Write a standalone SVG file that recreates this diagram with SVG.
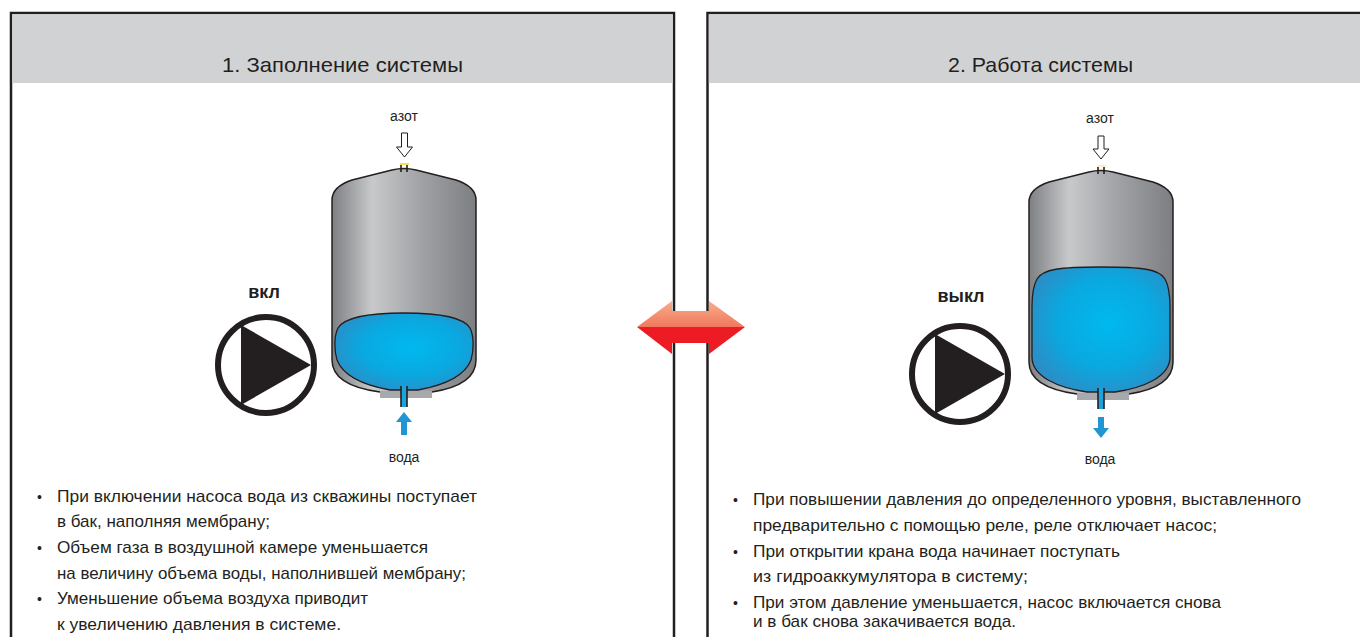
<svg xmlns="http://www.w3.org/2000/svg" width="1360" height="637" viewBox="0 0 1360 637">
  <style>
    .frame { fill: #ffffff; stroke: #231f20; stroke-width: 2.5; }
    .head { fill: #d1d2d4; }
    .title { font-family: "Liberation Sans Narrow", "Liberation Sans", sans-serif; font-size: 21px; fill: #231f20; text-anchor: middle; }
    .body { font-family: "Liberation Sans Narrow", "Liberation Sans", sans-serif; font-size: 17px; fill: #231f20; }
    .bullet { font-family: "Liberation Sans", sans-serif; font-size: 14px; fill: #231f20; }
    .lbl { font-family: "Liberation Sans", Arial, sans-serif; font-size: 14px; fill: #231f20; text-anchor: middle; }
    .state { font-family: "Liberation Sans", Arial, sans-serif; font-size: 18px; font-weight: bold; fill: #231f20; text-anchor: middle; }
    .shell { fill: url(#steel); stroke: #231f20; stroke-width: 1.5; }
    .membrane { fill: url(#water); stroke: #231f20; stroke-width: 1.3; }
    .flange { fill: #a7a9ac; }
    .valve { stroke: #231f20; stroke-width: 1.6; fill: none; }
    .gas { fill: #ffffff; stroke: #231f20; stroke-width: 1; }
    .flow { fill: #2196d3; }
    .ring { fill: none; stroke: #231f20; stroke-width: 6; }
  </style>
  <defs>
    <linearGradient id="steel" x1="0" y1="0" x2="1" y2="0">
      <stop offset="0" stop-color="#7e7f82"/>
      <stop offset="0.28" stop-color="#c8c9cb"/>
      <stop offset="0.6" stop-color="#a3a4a7"/>
      <stop offset="1" stop-color="#7d7e81"/>
    </linearGradient>
    <radialGradient id="water" cx="0.55" cy="0.45" r="0.6">
      <stop offset="0" stop-color="#00b9ef"/>
      <stop offset="0.6" stop-color="#0aa8e0"/>
      <stop offset="1" stop-color="#2b8ec6"/>
    </radialGradient>
    <linearGradient id="salmon" x1="0" y1="0" x2="0" y2="1">
      <stop offset="0" stop-color="#f8ae8c"/>
      <stop offset="1" stop-color="#f0785c"/>
    </linearGradient>
    <!-- tank shell: domed top, straight walls, rounded bottom to the flange -->
    <path id="shell" d="M 332 200 C 332 190 340 184 352 180 L 392 170 Q 404 167 416 170 L 456 180 C 468 184 476 190 476 200 L 476 360 C 476 378 458 388 432 392 L 380 392 C 350 388 332 378 332 360 Z"/>
  </defs>

  <!-- panel 1 -->
  <g id="panel-1">
    <rect class="frame" x="11" y="13" width="663" height="640"/>
    <rect class="head" x="12.3" y="14.3" width="660.4" height="68.7"/>
    <text class="title" x="342.5" y="72" textLength="241" lengthAdjust="spacingAndGlyphs">1. Заполнение системы</text>
  </g>

  <!-- panel 2 -->
  <g id="panel-2">
    <rect class="frame" x="707.5" y="13" width="663" height="640"/>
    <rect class="head" x="708.8" y="14.3" width="660.4" height="68.7"/>
    <text class="title" x="1040.5" y="72" textLength="185" lengthAdjust="spacingAndGlyphs">2. Работа системы</text>
  </g>

  <!-- tank, filling stage: small membrane -->
  <g id="tank-1">
    <use href="#shell" class="shell"/>
    <path class="membrane" d="M 404 313 C 440 313 464 318 470 328 C 474 336 474 350 471 360 C 464 378 440 386 418 390 L 390 390 C 368 386 344 378 337 360 C 334 350 334 336 338 328 C 344 318 368 313 404 313 Z"/>
    <rect class="flange" x="380" y="391" width="52" height="7"/>
    <rect x="401" y="386" width="6" height="21" fill="#1aa3dc"/>
    <path class="valve" d="M 401 386 V 407 M 407 386 V 407"/>
    <path d="M 400 164 H 409" stroke="#f2d21b" stroke-width="1.5"/>
    <path class="valve" d="M 401 165 V 172 M 407 165 V 172"/>
  </g>

  <!-- tank, working stage: full membrane -->
  <g id="tank-2" transform="translate(697 2)">
    <use href="#shell" class="shell"/>
    <path class="membrane" d="M 404 265 C 445 265 462 267 468 277 C 472 284 473 294 473 305 L 473 355 C 473 375 446 386 418 390 L 390 390 C 362 386 335 375 335 355 L 335 305 C 335 294 336 284 340 277 C 346 267 363 265 404 265 Z"/>
    <rect class="flange" x="380" y="391" width="52" height="7"/>
    <rect x="401" y="386" width="6" height="21" fill="#1aa3dc"/>
    <path class="valve" d="M 401 386 V 407 M 407 386 V 407"/>
    <path d="M 400 164 H 409" stroke="#f7e27a" stroke-width="1"/>
    <path class="valve" d="M 401 165 V 172 M 407 165 V 172"/>
  </g>

  <!-- pump, running -->
  <g id="pump-1">
    <text class="state" x="264" y="298">вкл</text>
    <circle class="ring" cx="266" cy="365" r="48"/>
    <polygon points="241,325 311,365 241,405" fill="#231f20"/>
  </g>

  <!-- pump, stopped -->
  <g id="pump-2">
    <text class="state" x="961" y="302">выкл</text>
    <circle class="ring" cx="960" cy="374" r="48"/>
    <polygon points="935,334 1005,374 935,414" fill="#231f20"/>
  </g>

  <!-- labels -->
  <g id="labels">
    <text class="lbl" x="404" y="121">азот</text>
    <text class="lbl" x="404" y="462">вода</text>
    <text class="lbl" x="1100" y="123">азот</text>
    <text class="lbl" x="1100" y="464">вода</text>
  </g>

  <!-- arrows -->
  <g id="connectors">
    <path class="gas" d="M 401.5 133 H 407.5 V 147 H 412.5 L 404.5 157 L 396.5 147 H 401.5 Z"/>
    <path class="gas" d="M 1098 136 H 1104 V 149 H 1109 L 1101 159 L 1093 149 H 1098 Z"/>
    <path class="flow" d="M 404 412 L 412 422 H 407 V 435 H 401 V 422 H 396 Z"/>
    <path class="flow" d="M 1101 438 L 1109 428 H 1104 V 417 H 1098 V 428 H 1093 Z"/>
    <!-- two-way arrow across the panel borders -->
    <polygon points="637,327 672,301 672,311 709,311 709,301 745,327" fill="url(#salmon)"/>
    <polygon points="637,327 745,327 709,354 709,343 672,343 672,354" fill="#ed1c24"/>
  </g>

  <!-- notes, panel 1 -->
  <g id="notes-1">
    <text class="bullet" x="37" y="502">•</text>
    <text class="body" x="57" y="502" textLength="420" lengthAdjust="spacingAndGlyphs">При включении насоса вода из скважины поступает</text>
    <text class="body" x="57" y="527">в бак, наполняя мембрану;</text>
    <text class="bullet" x="37" y="553">•</text>
    <text class="body" x="57" y="553" textLength="371" lengthAdjust="spacingAndGlyphs">Объем газа в воздушной камере уменьшается</text>
    <text class="body" x="57" y="579" textLength="409" lengthAdjust="spacingAndGlyphs">на величину объема воды, наполнившей мембрану;</text>
    <text class="bullet" x="37" y="604">•</text>
    <text class="body" x="57" y="604" textLength="311" lengthAdjust="spacingAndGlyphs">Уменьшение объема воздуха приводит</text>
    <text class="body" x="57" y="630" textLength="284" lengthAdjust="spacingAndGlyphs">к увеличению давления в системе.</text>
  </g>

  <!-- notes, panel 2 -->
  <g id="notes-2">
    <text class="bullet" x="733" y="505">•</text>
    <text class="body" x="753" y="505" textLength="548" lengthAdjust="spacingAndGlyphs">При повышении давления до определенного уровня, выставленного</text>
    <text class="body" x="753" y="531" textLength="464" lengthAdjust="spacingAndGlyphs">предварительно с помощью реле, реле отключает насос;</text>
    <text class="bullet" x="733" y="557">•</text>
    <text class="body" x="753" y="557" textLength="367" lengthAdjust="spacingAndGlyphs">При открытии крана вода начинает поступать</text>
    <text class="body" x="753" y="582" textLength="275" lengthAdjust="spacingAndGlyphs">из гидроаккумулятора в систему;</text>
    <text class="bullet" x="733" y="608">•</text>
    <text class="body" x="753" y="608" textLength="468" lengthAdjust="spacingAndGlyphs">При этом давление уменьшается, насос включается снова</text>
    <text class="body" x="753" y="627" textLength="263" lengthAdjust="spacingAndGlyphs">и в бак снова закачивается вода.</text>
  </g>
</svg>
